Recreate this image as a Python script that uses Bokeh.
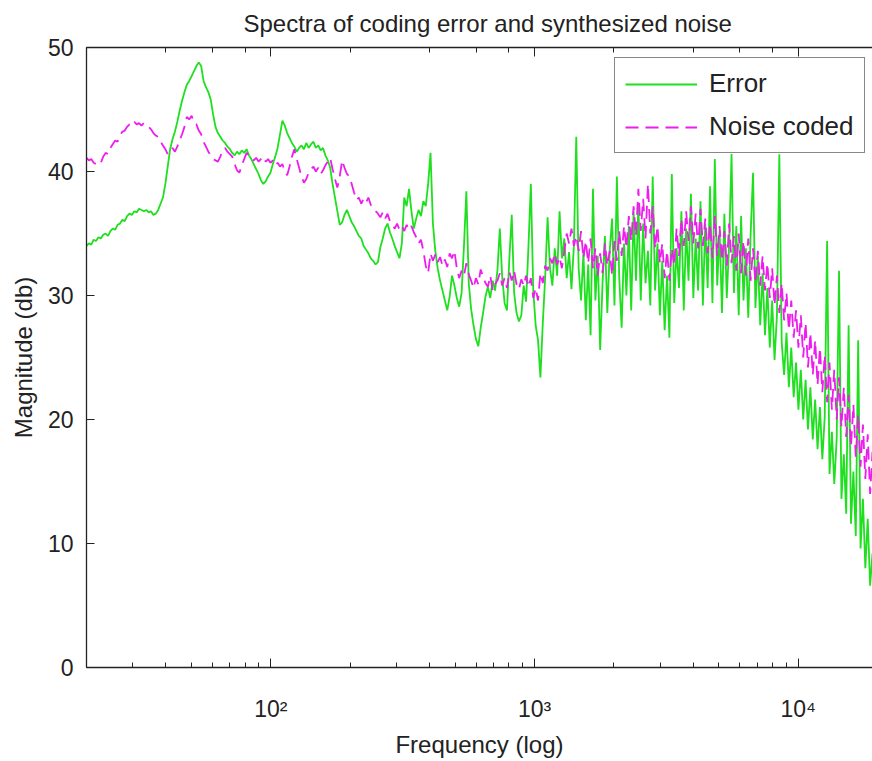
import numpy as np
from bokeh.plotting import figure
from bokeh.models import Range1d, LogAxis, FixedTicker, CustomJSTickFormatter
from bokeh.embed import file_html
from bokeh.resources import INLINE

# ---------------- data ----------------
f_min, f_max, n_pts = 20.0, 19130.0, 330
freq = np.geomspace(f_min, f_max, n_pts)   # sampling grid (log spaced)

error_db = [
    34.0, 34.2, 34.1, 34.5, 34.4, 34.7, 34.6, 34.9, 35.0, 34.8,
    35.2, 35.4, 35.3, 35.7, 35.8, 36.1, 36.0, 36.4, 36.6, 36.5,
    36.8, 36.7, 37.0, 36.9, 36.8, 36.9, 36.7, 36.8, 36.5, 36.6,
    36.9, 37.4, 37.9, 39.0, 40.4, 41.8, 42.6, 43.2, 44.0, 44.9,
    45.7, 46.4, 47.0, 47.3, 47.7, 48.1, 48.5, 48.8, 48.5, 47.3,
    46.8, 46.4, 45.8, 44.6, 43.6, 43.1, 42.8, 42.5, 42.3, 42.0,
    41.8, 41.5, 41.3, 41.6, 41.4, 41.7, 41.5, 41.8, 41.3, 41.0,
    40.6, 40.2, 39.8, 39.3, 39.0, 39.2, 39.6, 39.9, 40.6, 41.2,
    41.9, 43.0, 44.1, 43.7, 43.1, 42.7, 42.3, 42.0, 41.6, 41.9,
    42.1, 41.8, 42.3, 41.9, 42.2, 42.4, 41.9, 42.1, 41.7, 41.9,
    41.3, 40.9, 40.3, 39.0, 37.9, 36.8, 35.7, 35.9, 36.5, 36.9,
    36.4, 35.9, 35.6, 35.2, 34.8, 34.6, 34.0, 33.7, 33.4, 33.0,
    32.8, 32.5, 32.7, 33.9, 34.6, 35.4, 35.8, 35.1, 34.6, 34.0,
    33.5, 33.0, 34.2, 37.9, 37.2, 38.6, 36.8, 35.4, 36.2, 36.9,
    36.4, 37.6, 37.2, 39.0, 41.5, 35.8, 33.6, 32.2, 31.2, 30.4,
    29.6, 28.8, 29.9, 31.6, 30.8, 29.8, 29.1, 30.2, 34.0, 38.4,
    31.0, 28.9, 27.6, 26.5, 25.9, 27.4, 28.6, 29.9, 30.7, 29.8,
    31.2, 30.4, 32.0, 35.4, 31.5, 29.4, 28.8, 33.0, 36.5, 30.2,
    28.6, 27.9, 28.4, 30.8, 29.5, 34.0, 39.0, 30.4, 27.6, 26.4,
    23.4, 27.8, 31.5, 36.3, 32.2, 30.8, 33.8, 31.6, 36.8, 33.0,
    34.6, 31.4, 33.5, 30.5, 34.0, 42.8, 32.2, 29.6, 33.4, 28.0,
    32.5, 26.8, 38.6, 29.6, 33.2, 25.6, 31.0, 34.8, 28.6, 33.6,
    36.2, 29.2, 39.6, 31.4, 27.4, 34.2, 30.0, 35.6, 28.8, 36.8,
    31.2, 37.4, 29.6, 35.8, 31.0, 33.6, 29.2, 39.6, 30.4, 34.2,
    28.4, 32.8, 27.2, 31.6, 26.6, 39.8, 29.4, 33.8, 30.6, 36.8,
    28.8, 35.4, 31.2, 38.2, 29.8, 34.6, 30.4, 37.6, 29.2, 35.8,
    30.6, 38.8, 29.4, 41.0, 30.8, 35.2, 28.6, 36.6, 29.8, 34.2,
    41.4, 30.2, 35.6, 28.4, 36.4, 29.6, 33.8, 28.2, 35.0, 39.9,
    29.0, 33.2, 27.6, 31.8, 26.8, 30.6, 25.8, 29.6, 24.8, 28.4,
    41.4, 26.2, 23.6, 27.0, 22.6, 25.8, 21.8, 24.6, 20.8, 24.0,
    20.0, 23.2, 19.2, 22.6, 18.4, 21.6, 17.6, 21.0, 16.8, 20.2,
    34.4, 15.6, 19.0, 14.8, 18.4, 32.0, 13.6, 17.2, 12.4, 27.6,
    11.6, 15.8, 10.6, 26.4, 9.6, 13.6, 8.0, 12.0, 6.6, 9.2,
]

noise_db = [
    41.1, 40.9, 41.0, 40.7, 40.6, 40.8, 40.7, 41.2, 41.5, 41.4,
    41.9, 42.2, 42.5, 42.4, 42.9, 43.2, 43.3, 43.6, 43.8, 43.7,
    44.0, 43.8, 43.9, 43.7, 43.9, 43.8, 43.6, 43.4, 43.1, 42.9,
    42.8, 42.4, 42.1, 41.8, 41.4, 41.6, 41.9, 41.6, 42.0, 42.5,
    43.0, 43.6, 44.4, 44.2, 44.5, 43.9, 43.8, 43.3, 43.0, 42.4,
    42.0, 41.6, 41.3, 41.0, 40.9, 40.8, 41.2, 41.7, 41.9, 41.6,
    41.4, 41.2, 40.6, 40.1, 39.9, 40.5, 41.0, 41.5, 41.3, 41.0,
    40.9, 41.1, 40.8, 41.0, 41.2, 40.8, 41.0, 40.7, 40.9, 40.5,
    40.7, 40.4, 40.6, 40.0, 39.7, 40.4, 41.2, 41.8, 41.0, 40.3,
    39.6, 39.1, 39.4, 39.9, 40.2, 40.4, 40.0, 40.3, 39.8, 40.1,
    40.5, 40.8, 41.1, 40.2, 39.4, 38.7, 39.6, 40.9, 40.3, 39.8,
    39.6, 39.0, 38.3, 37.7, 37.9, 37.4, 37.8, 37.5, 37.9, 37.3,
    37.1, 36.8, 36.6, 36.3, 36.7, 36.2, 36.6, 36.0, 35.7, 35.4,
    35.8, 35.3, 35.6, 35.2, 35.7, 35.3, 35.6, 35.1, 34.7, 34.2,
    34.5, 33.6, 32.4, 31.8, 33.4, 32.8, 33.3, 32.7, 33.1, 32.4,
    32.9, 32.3, 33.4, 33.0, 33.6, 32.2, 31.4, 32.0, 31.6, 32.6,
    31.7, 31.2, 30.6, 31.4, 30.9, 32.1, 31.5, 31.0, 30.7, 31.6,
    30.4, 30.9, 31.2, 31.8, 30.8, 31.4, 30.6, 31.9, 31.2, 32.0,
    30.9, 30.5, 31.3, 30.8, 31.6, 30.7, 31.4, 29.8, 30.6, 29.6,
    31.8, 31.0, 32.4, 32.0, 33.0, 32.6, 33.4, 32.5, 33.1, 32.2,
    33.6, 35.0, 34.2, 35.4, 34.0, 34.8, 33.6, 35.2, 33.0, 34.4,
    32.6, 34.6, 32.2, 33.8, 31.6, 33.4, 31.8, 34.2, 32.4, 33.6,
    31.6, 34.4, 32.8, 35.2, 33.2, 35.6, 33.8, 36.4, 34.4, 37.2,
    34.8, 38.6, 35.2, 37.8, 34.6, 39.0, 35.0, 37.2, 33.8, 35.6,
    32.6, 34.2, 31.4, 33.6, 31.2, 33.8, 32.4, 35.4, 33.2, 36.2,
    34.0, 36.8, 34.4, 37.2, 34.2, 36.6, 33.8, 37.0, 34.0, 36.2,
    33.4, 35.8, 33.0, 36.4, 33.2, 35.6, 32.8, 35.2, 32.4, 35.8,
    32.6, 34.8, 32.0, 35.0, 31.8, 34.4, 31.6, 34.6, 31.2, 33.8,
    31.0, 33.6, 30.8, 33.2, 30.4, 32.6, 29.8, 32.2, 29.2, 31.6,
    28.6, 31.0, 28.0, 30.2, 27.2, 29.6, 26.6, 28.8, 25.8, 28.4,
    25.0, 27.8, 24.2, 27.0, 23.6, 26.4, 22.8, 25.8, 22.2, 25.2,
    21.4, 24.6, 20.8, 24.0, 20.0, 23.4, 19.4, 22.6, 18.6, 22.0,
    17.8, 21.2, 17.0, 20.4, 16.2, 19.6, 15.2, 18.8, 14.0, 17.4,
]

y_ticks = [0, 10, 20, 30, 40, 50]
x_ticks = [100, 1000, 10000]
x_tick_labels = ["10\u00b2", "10\u00b3", "10\u2074"]
series_names = ["Error", "Noise coded"]

# ---------------- figure ----------------
FONT = "Liberation Sans"
TXT = "#222222"
p = figure(width=872, height=761, x_axis_type="log",
           x_range=Range1d(f_min, f_max), y_range=Range1d(0, 50),
           output_backend="svg", toolbar_location=None,
           min_border_left=86, min_border_right=0,
           min_border_top=47, min_border_bottom=94,
           background_fill_color="white", border_fill_color="white",
           title="Spectra of coding error and synthesized noise")
p.outline_line_color = None
p.grid.visible = False

p.title.text_font = FONT
p.title.text_font_size = "24px"
p.title.text_font_style = "normal"
p.title.text_color = TXT
p.title.align = "left"
p.title.offset = 157
p.title.standoff = 18
p.title.vertical_align = "top"

ax_col = "#222222"

# left axis
ya = p.yaxis[0]
ya.ticker = FixedTicker(ticks=y_ticks)
ya.axis_label = "Magnitude (db)"
ya.axis_label_text_font = FONT
ya.axis_label_text_font_size = "24px"
ya.axis_label_text_font_style = "normal"
ya.axis_label_text_color = TXT
ya.axis_label_standoff = 8
ya.major_label_text_font = FONT
ya.major_label_text_font_size = "23px"
ya.major_label_text_color = TXT
ya.major_label_standoff = 13
ya.major_tick_in = 8
ya.major_tick_out = 0
ya.minor_tick_line_color = None
ya.axis_line_color = ax_col
ya.major_tick_line_color = ax_col
ya.axis_line_width = 1.3

# bottom axis
xa = p.xaxis[0]
xa.major_label_overrides = {float(v): t for v, t in zip(x_ticks, x_tick_labels)}
xa.major_label_text_font = FONT
xa.major_label_text_font_size = "23px"
xa.major_label_text_color = TXT
xa.major_label_standoff = 28
xa.axis_label = "Frequency (log)"
xa.axis_label_text_font = FONT
xa.axis_label_text_font_size = "24px"
xa.axis_label_text_font_style = "normal"
xa.axis_label_text_color = TXT
xa.axis_label_standoff = 6
xa.major_tick_in = 9
xa.major_tick_out = 0
xa.minor_tick_in = 5
xa.minor_tick_out = 0
xa.axis_line_color = ax_col
xa.major_tick_line_color = ax_col
xa.minor_tick_line_color = ax_col
xa.axis_line_width = 1.3

# top axis (ticks only)
top = LogAxis(formatter=CustomJSTickFormatter(code="return '';"),
              major_tick_in=9, major_tick_out=0,
              minor_tick_in=5, minor_tick_out=0, axis_line_color=ax_col,
              major_tick_line_color=ax_col, minor_tick_line_color=ax_col,
              axis_line_width=1.3, major_label_standoff=0, axis_label_standoff=0)
p.add_layout(top, "above")

# lines
p.line(freq, error_db, line_color="#1ee01e", line_width=1.8, legend_label=series_names[0])
p.line(freq, noise_db, line_color="#ee1cee", line_width=1.8, line_dash="13 7",
       legend_label=series_names[1])

lg = p.legend[0]
lg.location = (528, 514)
lg.margin = 0
lg.padding = 10
lg.spacing = 12
lg.glyph_width = 72
lg.glyph_height = 30
lg.label_height = 30
lg.label_standoff = 12
lg.label_text_font = FONT
lg.label_text_font_size = "26px"
lg.label_text_color = TXT
lg.border_line_color = "#111111"
lg.border_line_width = 1.3
lg.background_fill_color = "white"
lg.background_fill_alpha = 1.0

open("out.html", "w").write(file_html(p, INLINE))
